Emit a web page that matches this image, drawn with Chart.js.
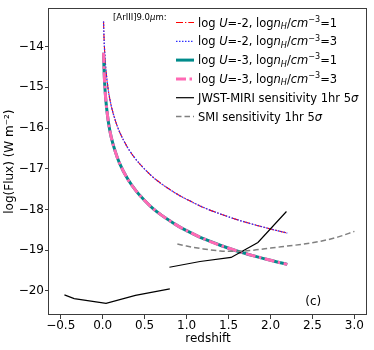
<!DOCTYPE html>
<html><head><meta charset="utf-8">
<script src="https://cdn.jsdelivr.net/npm/chart.js@4.4.0/dist/chart.umd.min.js"></script>
<style>html,body{margin:0;padding:0;background:#fff}#wrap{width:374px;height:350px}</style>
</head><body><div id="wrap"><canvas id="c" width="374" height="350"></canvas></div>
<script>
// ---- data ----
const redshift = [0.01,0.015,0.02,0.03,0.04,0.05,0.07,0.1,0.15,0.2,0.3,0.4,0.5,0.6,0.7,0.8,0.9,1.0,1.2,1.4,1.6,1.8,2.0,2.2];
const fluxU2n1 = [-13.38,-13.73,-13.99,-14.35,-14.60,-14.80,-15.11,-15.44,-15.81,-16.09,-16.49,-16.78,-17.01,-17.21,-17.37,-17.51,-17.64,-17.75,-17.95,-18.11,-18.25,-18.37,-18.48,-18.58];
const fluxU2n3 = [-13.38,-13.73,-13.99,-14.35,-14.60,-14.80,-15.11,-15.44,-15.81,-16.09,-16.49,-16.78,-17.01,-17.21,-17.37,-17.51,-17.64,-17.75,-17.95,-18.11,-18.25,-18.37,-18.48,-18.58];
const fluxU3n1 = [-14.15,-14.50,-14.76,-15.12,-15.37,-15.57,-15.88,-16.21,-16.58,-16.86,-17.26,-17.55,-17.78,-17.98,-18.14,-18.28,-18.41,-18.52,-18.72,-18.88,-19.02,-19.14,-19.25,-19.35];
const fluxU3n3 = [-14.15,-14.50,-14.76,-15.12,-15.37,-15.57,-15.88,-16.21,-16.58,-16.86,-17.26,-17.55,-17.78,-17.98,-18.14,-18.28,-18.41,-18.52,-18.72,-18.88,-19.02,-19.14,-19.25,-19.35];
const miriZ    = [-0.456,-0.34,0.04,0.39,0.80,0.80,0.795,1.16,1.53,1.85,2.19];
const miriFlux = [-20.10,-20.19,-20.31,-20.11,-19.95,null,-19.42,-19.28,-19.18,-18.81,-18.05];
const smiZ    = [0.89,1.0,1.2,1.4,1.6,1.8,2.0,2.2,2.4,2.6,2.8,3.0];
const smiFlux = [-18.85,-18.90,-18.97,-19.02,-19.03,-19.00,-18.95,-18.90,-18.85,-18.78,-18.68,-18.54];
const xTicks = [-0.5,0.0,0.5,1.0,1.5,2.0,2.5,3.0];
const yTicks = [-20,-19,-18,-17,-16,-15,-14];
const lineTitle = '[ArIII]9.0\u03bcm:';
const panelLabel = '(c)';
const seriesNames = [
  'log U=-2, logn_H/cm^-3=1',
  'log U=-2, logn_H/cm^-3=3',
  'log U=-3, logn_H/cm^-3=1',
  'log U=-3, logn_H/cm^-3=3',
  'JWST-MIRI sensitivity 1hr 5\u03c3',
  'SMI sensitivity 1hr 5\u03c3'
];

const FONT = '"DejaVu Sans", "Liberation Sans", sans-serif';
const pairs = (xs, ys) => xs.map((x, i) => ({x: x, y: ys[i]}));
const minus = v => (v < 0 ? '\u2212' : '');

const datasets = [
  {label: seriesNames[0], data: pairs(redshift, fluxU2n1), borderColor: '#ff0000', borderWidth: 1.1, borderDash: [7,2,1.3,2], order: 6, cubicInterpolationMode: 'monotone'},
  {label: seriesNames[1], data: pairs(redshift, fluxU2n3), borderColor: '#3030ff', borderWidth: 1.3, borderDash: [1.5,1.5], order: 5, cubicInterpolationMode: 'monotone'},
  {label: seriesNames[2], data: pairs(redshift, fluxU3n1), borderColor: '#008b8b', borderWidth: 3, borderDash: [], order: 4, cubicInterpolationMode: 'monotone'},
  {label: seriesNames[3], data: pairs(redshift, fluxU3n3), borderColor: '#ff69b4', borderWidth: 3, borderDash: [10,3.5,2.5,3.5], order: 3, cubicInterpolationMode: 'monotone'},
  {label: seriesNames[4], data: pairs(miriZ, miriFlux), borderColor: '#000000', borderWidth: 1.2, borderDash: [], order: 2, spanGaps: false},
  {label: seriesNames[5], data: pairs(smiZ, smiFlux), borderColor: '#808080', borderWidth: 1.5, borderDash: [5.5,3], order: 1, cubicInterpolationMode: 'monotone'}
];
datasets.forEach(d => { d.pointRadius = 0; d.fill = false; d.borderCapStyle = 'butt'; });

function richSegments(name) {
  const m = name.match(/^log U=(-?\d), logn_H\/cm\^-3=(\d)$/);
  if (m) {
    return [
      {t: 'log '}, {t: 'U', it: true}, {t: '=' + m[1] + ', log'}, {t: 'n', it: true},
      {t: 'H', it: true, sub: true}, {t: '/'}, {t: 'cm', it: true},
      {t: '\u22123', sup: true}, {t: '=' + m[2]}
    ];
  }
  const s = name.replace(' 5\u03c3', ' 5');
  return [{t: s}, {t: '\u03c3', it: true}];
}

function drawRich(ctx, x, baseY, segs, size) {
  for (const s of segs) {
    let fs = size, dy = 0;
    if (s.sub) { fs = size * 0.7; dy = size * 0.2; }
    if (s.sup) { fs = size * 0.7; dy = -size * 0.42; }
    ctx.font = (s.it ? 'italic ' : '') + fs + 'px ' + FONT;
    ctx.fillText(s.t, x, baseY + dy);
    x += ctx.measureText(s.t).width;
  }
}

const decor = {
  id: 'decor',
  afterDatasetsDraw(chart) {
    const ctx = chart.ctx, a = chart.chartArea;
    ctx.save();
    // frame
    ctx.strokeStyle = '#3c3c3c'; ctx.lineWidth = 1; ctx.setLineDash([]);
    ctx.strokeRect(Math.round(a.left) - 0.5, Math.round(a.top) + 0.5, Math.round(a.right - a.left), Math.round(a.bottom - a.top) - 1);
    // title of the legend
    ctx.fillStyle = '#000'; ctx.textBaseline = 'alphabetic'; ctx.textAlign = 'left';
    const t = [{t: '[ArIII]9.0'}, {t: '\u03bc', it: true}, {t: 'm:'}];
    drawRich(ctx, 113, 20, t, 8.5);
    // legend
    const rowY0 = 22.5, rowStep = 18.8, hx0 = 176, hx1 = 194, tx = 198, size = 11.5;
    chart.data.datasets.forEach((d, i) => {
      const y = rowY0 + i * rowStep;
      ctx.beginPath();
      ctx.strokeStyle = d.borderColor; ctx.lineWidth = d.borderWidth;
      ctx.lineCap = 'butt';
      ctx.setLineDash(d.borderDash || []);
      ctx.moveTo(hx0, y); ctx.lineTo(hx1, y); ctx.stroke();
      ctx.setLineDash([]);
      ctx.fillStyle = '#000';
      drawRich(ctx, tx, y + size * 0.36, richSegments(d.label), size);
    });
    // panel label
    const xs = chart.scales.x, ys = chart.scales.y;
    ctx.font = '12px ' + FONT; ctx.textAlign = 'center'; ctx.textBaseline = 'middle';
    ctx.fillText(panelLabel, xs.getPixelForValue(2.51), ys.getPixelForValue(-20.26));
    ctx.restore();
  }
};

new Chart(document.getElementById('c'), {
  type: 'line',
  data: {datasets: datasets},
  options: {
    responsive: false, animation: false, devicePixelRatio: 1,
    layout: {padding: {top: 4, right: 7, bottom: 0, left: 0}},
    plugins: {legend: {display: false}, tooltip: {enabled: false}},
    elements: {line: {tension: 0}},
    scales: {
      x: {
        type: 'linear', min: -0.64, max: 3.15,
        afterFit: s => { s.height = 35; },
        afterBuildTicks: s => { s.ticks = xTicks.map(v => ({value: v})); },
        border: {display: false},
        grid: {drawOnChartArea: false, drawTicks: true, tickLength: 4, color: '#3c3c3c', lineWidth: 1},
        ticks: {color: '#000', font: {family: FONT, size: 12}, padding: 0, maxRotation: 0,
                callback: v => minus(v) + Math.abs(v).toFixed(1)},
        title: {display: true, text: 'redshift', color: '#000', font: {family: FONT, size: 12}, padding: {top: 0, bottom: 4}}
      },
      y: {
        type: 'linear', min: -20.594, max: -13.055,
        afterFit: s => { s.width = 49; },
        afterBuildTicks: s => { s.ticks = yTicks.map(v => ({value: v})); },
        border: {display: false},
        grid: {drawOnChartArea: false, drawTicks: true, tickLength: 4, color: '#3c3c3c', lineWidth: 1},
        ticks: {color: '#000', font: {family: FONT, size: 12}, padding: 1,
                callback: v => minus(v) + Math.abs(v).toFixed(0)},
        title: {display: true, text: 'log(Flux) (W m\u207b\u00b2)', color: '#000', font: {family: FONT, size: 12}, padding: {top: 3, bottom: 0}}
      }
    }
  },
  plugins: [decor]
});
</script>
</body></html>
